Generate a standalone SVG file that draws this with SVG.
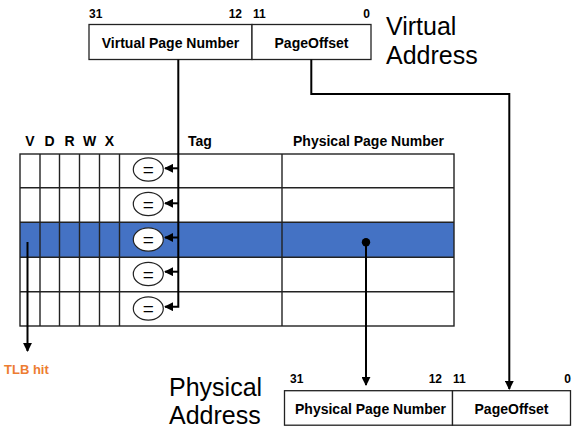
<svg xmlns="http://www.w3.org/2000/svg" width="578" height="432" viewBox="0 0 578 432">
<defs>
<marker id="ah" viewBox="0 0 10 10" refX="9" refY="5" markerWidth="9" markerHeight="9" markerUnits="userSpaceOnUse" orient="auto">
<path d="M0,0 L10,5 L0,10 z" fill="#000"/>
</marker>
</defs>
<style>
.box{fill:#fff;stroke:#222;stroke-width:1.3}
.grid{stroke:#222;stroke-width:1.4;fill:none}
.b{font-family:"Liberation Sans",Arial,sans-serif;font-weight:bold;fill:#000}
.lbl{font-size:14px}
.bit{font-size:12px}
.big{font-family:"Liberation Sans",Arial,sans-serif;font-size:25px;fill:#000}
.con{stroke:#000;stroke-width:2;fill:none}
.eq{fill:#fff;stroke:#222;stroke-width:1.2}
.eqt{font-family:"Liberation Sans",Arial,sans-serif;font-size:19px;fill:#000}
</style>
<rect width="578" height="432" fill="#fff"/>

<g id="virtual-address">
<rect class="box" x="89" y="24.5" width="163" height="35"/>
<rect class="box" x="252" y="24.5" width="119" height="35"/>
<text class="b lbl" x="170.5" y="47.5" text-anchor="middle">Virtual Page Number</text>
<text class="b lbl" x="311.5" y="47.5" text-anchor="middle">PageOffset</text>
<text class="b bit" x="89" y="18">31</text>
<text class="b bit" x="242" y="18" text-anchor="end">12</text>
<text class="b bit" x="253" y="18">11</text>
<text class="b bit" x="370" y="18" text-anchor="end">0</text>
<text class="big" x="386" y="35">Virtual</text>
<text class="big" x="386" y="63.5">Address</text>
</g>

<g id="tlb">
<rect x="20" y="222.3" width="434" height="35" fill="#4472C4"/>
<rect class="grid" x="20" y="154" width="434" height="172"/>
<line class="grid" x1="20" y1="187.7" x2="454" y2="187.7"/>
<line class="grid" x1="20" y1="222.3" x2="454" y2="222.3"/>
<line class="grid" x1="20" y1="257.3" x2="454" y2="257.3"/>
<line class="grid" x1="20" y1="291.7" x2="454" y2="291.7"/>
<line class="grid" x1="40" y1="154" x2="40" y2="326"/>
<line class="grid" x1="59.5" y1="154" x2="59.5" y2="326"/>
<line class="grid" x1="79.5" y1="154" x2="79.5" y2="326"/>
<line class="grid" x1="99.5" y1="154" x2="99.5" y2="326"/>
<line class="grid" x1="119.5" y1="154" x2="119.5" y2="326"/>
<line class="grid" x1="282" y1="154" x2="282" y2="326"/>
<text class="b lbl" x="30" y="146" text-anchor="middle">V</text>
<text class="b lbl" x="49.5" y="146" text-anchor="middle">D</text>
<text class="b lbl" x="69.5" y="146" text-anchor="middle">R</text>
<text class="b lbl" x="89.5" y="146" text-anchor="middle">W</text>
<text class="b lbl" x="109.5" y="146" text-anchor="middle">X</text>
<text class="b lbl" x="200" y="146" text-anchor="middle">Tag</text>
<text class="b lbl" x="368.5" y="146" text-anchor="middle">Physical Page Number</text>
</g>

<g id="comparators">
<ellipse class="eq" cx="148.3" cy="169.5" rx="15" ry="11.7"/>
<ellipse class="eq" cx="148.3" cy="204" rx="15" ry="11.7"/>
<ellipse class="eq" cx="148.3" cy="239.5" rx="15" ry="11.7"/>
<ellipse class="eq" cx="148.3" cy="274" rx="15" ry="11.7"/>
<ellipse class="eq" cx="148.3" cy="308.5" rx="15" ry="11.7"/>
<text class="eqt" x="148.3" y="176" text-anchor="middle">=</text>
<text class="eqt" x="148.3" y="210.5" text-anchor="middle">=</text>
<text class="eqt" x="148.3" y="246" text-anchor="middle">=</text>
<text class="eqt" x="148.3" y="280.5" text-anchor="middle">=</text>
<text class="eqt" x="148.3" y="315" text-anchor="middle">=</text>
</g>

<g id="physical-address">
<rect class="box" x="284.5" y="390.7" width="168" height="34.5"/>
<rect class="box" x="452.5" y="390.7" width="118" height="34.5"/>
<text class="b lbl" x="370.5" y="413.5" text-anchor="middle">Physical Page Number</text>
<text class="b lbl" x="511.5" y="413.5" text-anchor="middle">PageOffset</text>
<text class="b bit" x="290" y="383">31</text>
<text class="b bit" x="442" y="383" text-anchor="end">12</text>
<text class="b bit" x="453" y="383">11</text>
<text class="b bit" x="571" y="383" text-anchor="end">0</text>
<text class="big" x="169" y="395.5" font-size="24.5">Physical</text>
<text class="big" x="169" y="424" font-size="24.5">Address</text>
</g>

<g id="tlb-hit">
<text class="b" font-size="13" x="4" y="374" style="fill:#ED7D31">TLB hit</text>
</g>

<g id="connectors">
<polyline class="con" points="178.3,59.5 178.3,306.7 165,306.7" marker-end="url(#ah)"/>
<line class="con" x1="178.3" y1="168.3" x2="165" y2="168.3" marker-end="url(#ah)"/>
<line class="con" x1="178.3" y1="203.3" x2="165" y2="203.3" marker-end="url(#ah)"/>
<line class="con" x1="178.3" y1="237.5" x2="165" y2="237.5" marker-end="url(#ah)"/>
<line class="con" x1="178.3" y1="271.7" x2="165" y2="271.7" marker-end="url(#ah)"/>
<polyline class="con" points="311.3,59.5 311.3,94 509.3,94 509.3,389" marker-end="url(#ah)"/>
<line class="con" x1="366" y1="242" x2="366" y2="385" marker-end="url(#ah)"/>
<circle cx="366" cy="242.3" r="4.2" fill="#000"/>
<line class="con" x1="27.5" y1="242" x2="27.5" y2="351" stroke-width="1.5" marker-end="url(#ah)"/>
</g>
</svg>
